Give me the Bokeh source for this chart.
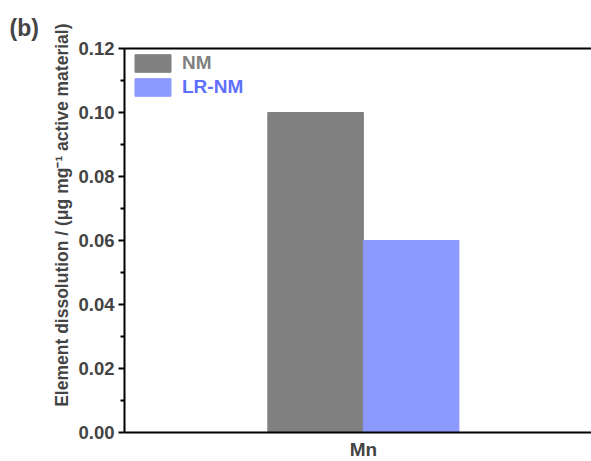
import numpy as np
from bokeh.plotting import figure
from bokeh.models import (ColumnDataSource, Range1d, FixedTicker, LinearAxis,
                          Legend, LegendItem, NumeralTickFormatter, Title)
from bokeh.embed import file_html
from bokeh.resources import INLINE

categories = ["Mn"]
nm_values = [0.10]
lrnm_values = [0.06]
series_names = ["NM", "LR-NM"]
y_ticks = [0.0, 0.02, 0.04, 0.06, 0.08, 0.10, 0.12]
y_minor = [0.01, 0.03, 0.05, 0.07, 0.09, 0.11]
y_title = "Element dissolution / (μg mg⁻¹ active material)"

GRAY = "#808080"
BLUE = "#8c99ff"
BLUE_TXT = "#5f6fff"
FONT = "Liberation Sans"

idx = np.arange(len(categories))
src = ColumnDataSource(dict(x_nm=idx - 0.2, x_lr=idx + 0.2, nm=nm_values, lr=lrnm_values))

p = figure(width=591, height=463, output_backend="svg", toolbar_location=None,
           x_range=Range1d(-1.0, 0.955), y_range=Range1d(0, 0.12),
           min_border_left=124, min_border_right=0, min_border_top=48, min_border_bottom=31)
p.outline_line_color = None
p.xgrid.visible = False
p.ygrid.visible = False
p.background_fill_color = "white"
p.border_fill_color = "white"

p.title.text = "(b)"
p.title.align = "left"
p.title.offset = -115
p.title.standoff = 15
p.title.text_font = FONT
p.title.text_font_style = "bold"
p.title.text_font_size = "23px"

r1 = p.vbar(x="x_nm", top="nm", width=0.4, source=src, fill_color=GRAY, line_color=GRAY)
r2 = p.vbar(x="x_lr", top="lr", width=0.4, source=src, fill_color=BLUE, line_color=BLUE)

# axes
yax = p.yaxis[0]
yax.ticker = FixedTicker(ticks=y_ticks, minor_ticks=y_minor)
yax.formatter = NumeralTickFormatter(format="0.00")
yax.axis_line_width = 2
yax.major_tick_line_width = 2
yax.minor_tick_line_width = 2
yax.major_tick_out = 6
yax.major_tick_in = 0
yax.minor_tick_out = 4
yax.minor_tick_in = 0
yax.major_label_text_font = FONT
yax.major_label_text_font_style = "bold"
yax.major_label_text_font_size = "18.5px"
yax.major_label_standoff = 4

# y title as a side title, so that it can sit a little above the frame centre
ytitle = Title(text=y_title, align="right", offset=-25, standoff=8,
               text_font=FONT, text_font_style="bold", text_font_size="17.5px")
p.add_layout(ytitle, "left")

xax = p.xaxis[0]
xax.ticker = FixedTicker(ticks=list(idx))
xax.major_label_overrides = {int(i): c for i, c in zip(idx, categories)}
xax.axis_line_width = 2
xax.major_tick_line_color = None
xax.minor_tick_line_color = None
xax.major_label_text_font = FONT
xax.major_label_text_font_style = "bold"
xax.major_label_text_font_size = "19px"
xax.major_label_standoff = 0

top = LinearAxis(ticker=FixedTicker(ticks=[]), axis_line_width=2,
                 major_tick_line_color=None, minor_tick_line_color=None,
                 major_label_text_font_size="0px")
p.add_layout(top, "above")

leg_common = dict(glyph_width=45, glyph_height=22, padding=0, margin=0,
                  border_line_color=None, background_fill_alpha=0,
                  label_text_font=FONT, label_text_font_style="bold",
                  label_text_font_size="19px", label_standoff=7, label_height=20)
leg1 = Legend(items=[LegendItem(label=series_names[0], renderers=[r1])],
              location=(6, 358), label_text_color=GRAY, **leg_common)
leg2 = Legend(items=[LegendItem(label=series_names[1], renderers=[r2])],
              location=(6, 334), label_text_color=BLUE_TXT, **leg_common)
p.add_layout(leg1, "center")
p.add_layout(leg2, "center")

html = file_html(p, INLINE)
html = html.replace("</head>", "<style>html,body{margin:0;padding:0;overflow:hidden}</style></head>", 1)
open("out.html", "w").write(html)
